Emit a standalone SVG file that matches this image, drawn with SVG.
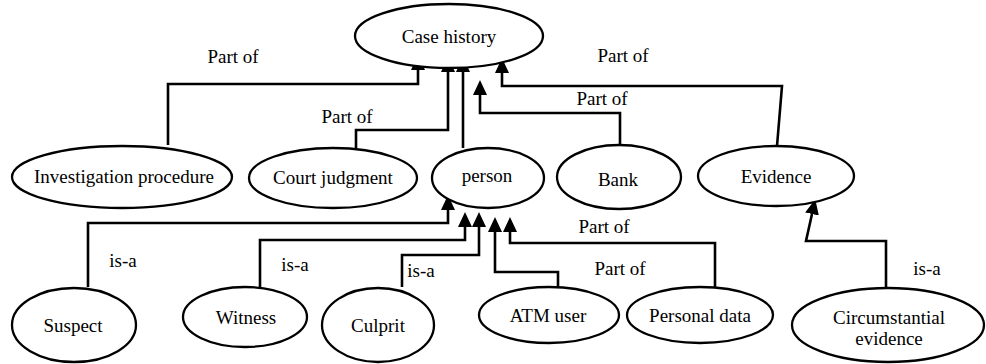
<svg xmlns="http://www.w3.org/2000/svg" width="986" height="364" viewBox="0 0 986 364">
<defs>
<marker id="arr" markerUnits="userSpaceOnUse" markerWidth="15" markerHeight="14" refX="0" refY="7" orient="auto" viewBox="0 0 15 14">
<path d="M0,0 L15,7 L0,14 z" fill="#000"/>
</marker>
<style>
.n ellipse{fill:#fff;stroke:#000;stroke-width:2.3}
text{font-size:19px;fill:#000;text-anchor:middle}
.c path{fill:none;stroke:#000;stroke-width:2.6;marker-end:url(#arr)}
</style>
</defs>
<rect width="986" height="364" fill="#fff"/>
<g font-family="Liberation Serif, DejaVu Serif, serif">
<g class="c" id="connectors">
<path d="M168,145 V84 H418 V70"/>
<path d="M356,148 V130 H448 V72"/>
<path d="M463,148 V72"/>
<path d="M620,145 V113 H480 V95"/>
<path d="M777,146 L782,86 H502 V73"/>
<path d="M88,287 V223 H448 V210"/>
<path d="M260,287 V240 H465 V227"/>
<path d="M402,287 V255 H479 V227"/>
<path d="M558,288 V272 H495 V232"/>
<path d="M715,288 V243 H510 V232"/>
<path d="M886,288 V241 H806 L812,214"/>
</g>
<g id="labels">
<text x="233" y="63">Part of</text>
<text x="347" y="123">Part of</text>
<text x="623" y="62">Part of</text>
<text x="602" y="105">Part of</text>
<text x="604" y="233">Part of</text>
<text x="620" y="275">Part of</text>
<text x="123" y="267">is-a</text>
<text x="295" y="271">is-a</text>
<text x="421" y="277">is-a</text>
<text x="927" y="275">is-a</text>
</g>
<g class="n" id="case-history"><ellipse cx="449" cy="36" rx="94" ry="32"/><text x="449" y="43">Case history</text></g>
<g class="n" id="investigation-procedure"><ellipse cx="122" cy="177" rx="110" ry="31"/><text x="124" y="183">Investigation procedure</text></g>
<g class="n" id="court-judgment"><ellipse cx="333" cy="178" rx="84" ry="30"/><text x="333" y="184">Court judgment</text></g>
<g class="n" id="person"><ellipse cx="488" cy="178" rx="56" ry="30"/><text x="487" y="182">person</text></g>
<g class="n" id="bank"><ellipse cx="619" cy="177" rx="62" ry="32"/><text x="618" y="186">Bank</text></g>
<g class="n" id="evidence"><ellipse cx="776" cy="176" rx="78" ry="30"/><text x="776" y="183">Evidence</text></g>
<g class="n" id="suspect"><ellipse cx="74" cy="325" rx="62" ry="37"/><text x="73" y="332">Suspect</text></g>
<g class="n" id="witness"><ellipse cx="245" cy="317" rx="62" ry="30"/><text x="246" y="324">Witness</text></g>
<g class="n" id="culprit"><ellipse cx="378" cy="325" rx="56" ry="37"/><text x="378" y="332">Culprit</text></g>
<g class="n" id="atm-user"><ellipse cx="549" cy="315" rx="70" ry="28"/><text x="548" y="322">ATM user</text></g>
<g class="n" id="personal-data"><ellipse cx="700" cy="315" rx="73" ry="28"/><text x="700" y="322">Personal data</text></g>
<g class="n" id="circumstantial-evidence"><ellipse cx="888" cy="325" rx="96" ry="37"/><text x="889" y="324">Circumstantial</text><text x="889" y="345">evidence</text></g>
</g>
</svg>
